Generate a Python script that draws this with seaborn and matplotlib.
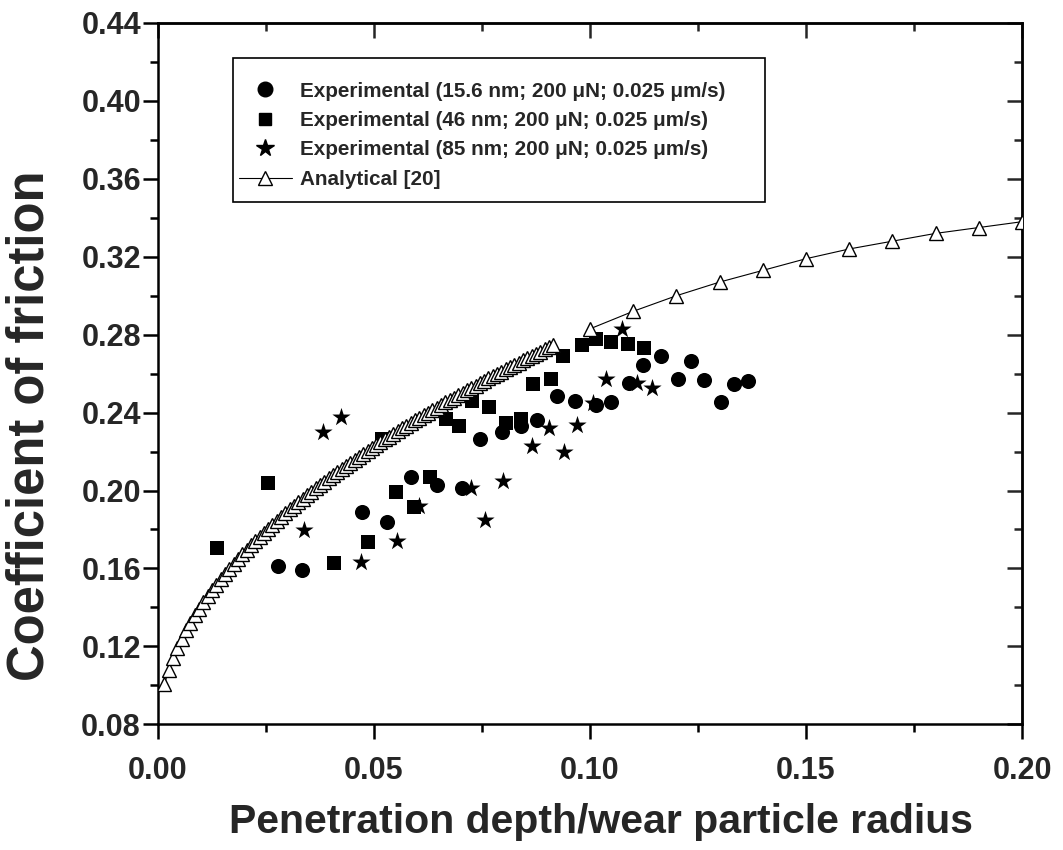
import matplotlib
matplotlib.use("Agg")
import matplotlib.pyplot as plt
import seaborn as sns
from matplotlib.lines import Line2D
from matplotlib.patches import Rectangle
from matplotlib.ticker import MultipleLocator

# ---------------- data ----------------
exp156_x = [0.0277, 0.0333, 0.0473, 0.0529, 0.0586, 0.0645, 0.0704, 0.0745, 0.0796, 0.0840,
            0.0877, 0.0924, 0.0965, 0.1013, 0.1049, 0.1090, 0.1123, 0.1164, 0.1203, 0.1233,
            0.1264, 0.1303, 0.1334, 0.1365]
exp156_y = [0.1614, 0.1593, 0.1890, 0.1839, 0.2070, 0.2030, 0.2011, 0.2262, 0.2300, 0.2330,
            0.2361, 0.2484, 0.2462, 0.2440, 0.2453, 0.2553, 0.2644, 0.2690, 0.2574, 0.2666,
            0.2565, 0.2456, 0.2548, 0.2561]

exp46_x = [0.0136, 0.0254, 0.0408, 0.0485, 0.0518, 0.0551, 0.0593, 0.0630, 0.0666, 0.0697,
           0.0726, 0.0767, 0.0805, 0.0840, 0.0869, 0.0909, 0.0938, 0.0981, 0.1013, 0.1048,
           0.1087, 0.1124]
exp46_y = [0.1705, 0.2040, 0.1630, 0.1736, 0.2265, 0.1990, 0.1916, 0.2070, 0.2365, 0.2330,
           0.2460, 0.2430, 0.2348, 0.2365, 0.2548, 0.2575, 0.2690, 0.2747, 0.2776, 0.2764,
           0.2754, 0.2733]

exp85_x = [0.0339, 0.0383, 0.0424, 0.0469, 0.0553, 0.0605, 0.0724, 0.0757, 0.0799, 0.0866,
           0.0906, 0.0940, 0.0969, 0.1006, 0.1037, 0.1075, 0.1108, 0.1144]
exp85_y = [0.1795, 0.2300, 0.2376, 0.1631, 0.1742, 0.1919, 0.2013, 0.1850, 0.2047, 0.2231,
           0.2322, 0.2197, 0.2334, 0.2447, 0.2570, 0.2827, 0.2553, 0.2528]

# analytical model, dense part
ana_dense_x = [0.0015, 0.0025, 0.0035, 0.0045, 0.0055, 0.0065, 0.0075, 0.0085, 0.0095, 0.0105,
               0.0115, 0.0125, 0.0135, 0.0145, 0.0155, 0.0165, 0.0175, 0.0185, 0.0195, 0.0205,
               0.0215, 0.0225, 0.0235, 0.0245, 0.0255, 0.0265, 0.0275, 0.0285, 0.0295, 0.0305,
               0.0315, 0.0325, 0.0335, 0.0345, 0.0355, 0.0365, 0.0375, 0.0385, 0.0395, 0.0405,
               0.0415, 0.0425, 0.0435, 0.0445, 0.0455, 0.0465, 0.0475, 0.0485, 0.0495, 0.0505,
               0.0515, 0.0525, 0.0535, 0.0545, 0.0555, 0.0565, 0.0575, 0.0585, 0.0595, 0.0605,
               0.0615, 0.0625, 0.0635, 0.0645, 0.0655, 0.0665, 0.0675, 0.0685, 0.0695, 0.0705,
               0.0715, 0.0725, 0.0735, 0.0745, 0.0755, 0.0765, 0.0775, 0.0785, 0.0795, 0.0805,
               0.0815, 0.0825, 0.0835, 0.0845, 0.0855, 0.0865, 0.0875, 0.0885, 0.0895, 0.0905,
               0.0915]
ana_dense_y = [0.1006, 0.1080, 0.1140, 0.1193, 0.1239, 0.1282, 0.1322, 0.1359, 0.1393, 0.1426,
               0.1458, 0.1488, 0.1517, 0.1545, 0.1572, 0.1598, 0.1623, 0.1648, 0.1672, 0.1695,
               0.1718, 0.1740, 0.1762, 0.1783, 0.1804, 0.1824, 0.1844, 0.1864, 0.1884, 0.1903,
               0.1921, 0.1940, 0.1958, 0.1976, 0.1994, 0.2011, 0.2028, 0.2045, 0.2062, 0.2078,
               0.2095, 0.2111, 0.2127, 0.2142, 0.2158, 0.2173, 0.2188, 0.2204, 0.2218, 0.2233,
               0.2248, 0.2262, 0.2277, 0.2291, 0.2305, 0.2319, 0.2333, 0.2346, 0.2360, 0.2373,
               0.2387, 0.2400, 0.2413, 0.2426, 0.2439, 0.2452, 0.2465, 0.2477, 0.2490, 0.2502,
               0.2515, 0.2527, 0.2539, 0.2551, 0.2564, 0.2576, 0.2587, 0.2599, 0.2611, 0.2623,
               0.2634, 0.2646, 0.2657, 0.2669, 0.2680, 0.2691, 0.2702, 0.2713, 0.2725, 0.2736,
               0.2746]
# analytical model, sparse part
ana_sparse_x = [0.10, 0.11, 0.12, 0.13, 0.14, 0.15, 0.16, 0.17, 0.18, 0.19, 0.20]
ana_sparse_y = [0.283, 0.292, 0.300, 0.307, 0.313, 0.319, 0.324, 0.328, 0.332, 0.335, 0.338]

labels = ["Experimental (15.6 nm; 200 \u03bcN; 0.025 \u03bcm/s)",
          "Experimental (46 nm; 200 \u03bcN; 0.025 \u03bcm/s)",
          "Experimental (85 nm; 200 \u03bcN; 0.025 \u03bcm/s)",
          "Analytical [20]"]
x_ticks = [0.00, 0.05, 0.10, 0.15, 0.20]
y_ticks = [0.08, 0.12, 0.16, 0.20, 0.24, 0.28, 0.32, 0.36, 0.40, 0.44]

# ---------------- style ----------------
sns.set_style("ticks")
plt.rcParams['font.family'] = ['Liberation Sans', 'DejaVu Sans']
plt.rcParams['font.weight'] = 'bold'
plt.rcParams['axes.labelweight'] = 'bold'

fig = plt.figure(figsize=(10.63, 8.5), dpi=100)
ax = fig.add_axes([158 / 1063, 1 - 724.3 / 850, (1022 - 158) / 1063, (724.3 - 23) / 850])

tri_kw = dict(color='black', lw=0.8, marker='^', markersize=9.5, markerfacecolor='white',
              markeredgecolor='black', markeredgewidth=1.0, sort=False, estimator=None, zorder=3)
sns.lineplot(x=ana_dense_x, y=ana_dense_y, ax=ax, **tri_kw)
sns.lineplot(x=ana_sparse_x, y=ana_sparse_y, ax=ax, **tri_kw)

sns.scatterplot(x=exp156_x, y=exp156_y, ax=ax, marker='o', s=118, color='black',
                edgecolor='black', linewidth=0, zorder=2)
sns.scatterplot(x=exp46_x, y=exp46_y, ax=ax, marker='s', s=94, color='black',
                edgecolor='black', linewidth=0, zorder=2)
sns.scatterplot(x=exp85_x, y=exp85_y, ax=ax, marker='*', s=190, color='black',
                edgecolor='black', linewidth=0, zorder=2)

ax.set_xlim(0.0, 0.20)
ax.set_ylim(0.08, 0.44)
ax.set_xticks(x_ticks)
ax.set_yticks(y_ticks)
ax.set_xticklabels([f"{v:.2f}" for v in x_ticks])
ax.set_yticklabels([f"{v:.2f}" for v in y_ticks])
ax.xaxis.set_minor_locator(MultipleLocator(0.025))
ax.yaxis.set_minor_locator(MultipleLocator(0.02))

for side in ['left', 'right', 'top', 'bottom']:
    ax.spines[side].set_visible(True)
    ax.spines[side].set_linewidth(1.8)
    ax.spines[side].set_color('black')

ax.tick_params(which='major', length=10.8, width=1.8, color='black', labelsize=22)
ax.tick_params(which='minor', length=5.5, width=1.8, color='black')
ax.tick_params(axis='x', which='both', direction='out', top=False, pad=12)
ax.tick_params(axis='y', which='both', direction='out', right=False, pad=1.5)
for lab in ax.get_xticklabels() + ax.get_yticklabels():
    lab.set_fontweight('bold')

axt = ax.secondary_xaxis('top')
axt.set_xticks(x_ticks)
axt.xaxis.set_minor_locator(MultipleLocator(0.025))
axt.tick_params(which='major', direction='in', length=10.8, width=1.8, labeltop=False)
axt.tick_params(which='minor', direction='in', length=5.5, width=1.8)
axt.spines['top'].set_linewidth(1.8)
axr = ax.secondary_yaxis('right')
axr.set_yticks(y_ticks)
axr.yaxis.set_minor_locator(MultipleLocator(0.02))
axr.tick_params(which='major', direction='in', length=10.8, width=1.8, labelright=False)
axr.tick_params(which='minor', direction='in', length=5.5, width=1.8)
axr.spines['right'].set_linewidth(1.8)

ax.set_xlabel("Penetration depth/wear particle radius", fontsize=29.5, fontweight='bold')
ax.xaxis.set_label_coords(0.5127, -0.112, transform=ax.transAxes)
ax.set_ylabel("Coefficient of friction", fontsize=36.5, fontweight='bold')
ax.yaxis.set_label_coords(-0.12, 0.425, transform=ax.transAxes)

# legend
handles = [
    Line2D([], [], ls='none', marker='o', color='black', markersize=10.5),
    Line2D([], [], ls='none', marker='s', color='black', markersize=9),
    Line2D([], [], ls='none', marker='*', color='black', markersize=13),
    Line2D([], [], ls='-', lw=0.8, marker='^', color='black', markersize=9.5,
           markerfacecolor='white', markeredgewidth=1.0),
]
leg = ax.legend(handles, labels, loc='upper left', bbox_to_anchor=(0.0865, 0.9245),
                frameon=False,
                prop={'family': ['Liberation Sans', 'DejaVu Sans'], 'weight': 'bold', 'size': 14.9},
                handlelength=2.58, handletextpad=0.37, labelspacing=0.5, borderpad=0.28,
                borderaxespad=0)
ax.add_patch(Rectangle((0.0865, 0.745), 0.616, 0.2047, transform=ax.transAxes,
                       fill=False, edgecolor='black', linewidth=1.2, zorder=5))

fig.savefig("out.png", dpi=100)
